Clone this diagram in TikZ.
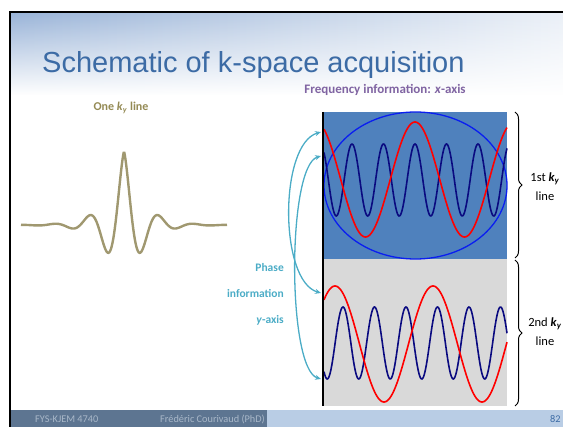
\documentclass[tikz,border=0pt]{standalone}
\usepackage{fontspec}
\setmainfont{Carlito}
\newfontfamily\titlefont{Liberation Sans}
\usetikzlibrary{arrows.meta, positioning, calc, decorations.pathreplacing, fadings}
\definecolor{titleblue}{HTML}{3C6BA5}
\definecolor{freqpurple}{HTML}{8064A2}
\definecolor{olivetext}{HTML}{948A54}
\definecolor{sincolive}{HTML}{A09870}
\definecolor{panelblue}{HTML}{4F81BD}
\definecolor{panelgray}{HTML}{D9D9D9}
\definecolor{wavered}{HTML}{FF0000}
\definecolor{wavenavy}{HTML}{0A0A80}
\definecolor{ellblue}{HTML}{0A1EF0}
\definecolor{phasecyan}{HTML}{4BACC6}
\definecolor{footdark}{HTML}{5D7591}
\definecolor{footlight}{HTML}{B9CDE5}
\definecolor{foottext}{HTML}{A9B8C9}
\definecolor{hdrblue}{HTML}{9AB4D8}
\tikzfading[name=hdrfade, top color=transparent!100, bottom color=transparent!0]

\begin{document}
\begin{tikzpicture}[
    x=1pt, y=-1pt,
    % ── Text styles ──────────────────────────────────────────────────────
    titletext/.style={
        font=\titlefont\fontsize{29}{31}\selectfont,
        text=titleblue, inner sep=0pt
    },
    labeltext/.style={
        font=\fontsize{12}{14}\selectfont\bfseries, inner sep=0pt
    },
    bracetext/.style={
        font=\fontsize{12.5}{19}\selectfont, align=center, inner sep=0pt
    },
    foottxt/.style={
        font=\fontsize{10.3}{11}\selectfont, inner sep=0pt, anchor=base west
    },
    % ── Curve styles ─────────────────────────────────────────────────────
    wave/.style={line width=1.6pt, smooth, samples=240},
    phasearr/.style={
        {Stealth[length=6pt, width=5pt]}-{Stealth[length=6pt, width=5pt]},
        line width=1.3pt, color=phasecyan
    },
    kbrace/.style={
        decorate, decoration={brace, amplitude=7pt}, line width=1pt
    }
]
\useasboundingbox (0,0) rectangle (563,427);

% ═══════════════════════════════════════════════════════════════════════════
% Slide frame, header shading and footer
% ═══════════════════════════════════════════════════════════════════════════
\shade[left color=hdrblue, right color=hdrblue!20] (11,13) rectangle (563,95);
\fill[white, path fading=hdrfade] (11,13) rectangle (563,95);
\fill[footdark] (11,410) rectangle (267,427);
\fill[footlight] (267,410) rectangle (563,427);
\draw[line width=1.5pt] (10,427) -- (10,12) -- (563,12);

\node[foottxt, text=foottext] (course) at (35,423) {FYS-KJEM 4740};
\node[foottxt, text=foottext] (author) at (160,423) {Frédéric Courivaud (PhD)};
\node[foottxt, text=titleblue] (page) at (550,423) {82};

% ═══════════════════════════════════════════════════════════════════════════
% Title and headings
% ═══════════════════════════════════════════════════════════════════════════
\node[titletext, anchor=base west] (title) at (42,73)
    {Schematic of k-space acquisition};

\node[labeltext, text=freqpurple, anchor=base,
      font=\fontsize{13}{15}\selectfont\bfseries] (freq) at (385,94)
    {Frequency information: \textit{x}-axis};

\node[labeltext, text=olivetext, anchor=base] (oneky) at (121,111)
    {One \textit{k}\textsubscript{\textit{y}} line};

% ═══════════════════════════════════════════════════════════════════════════
% One k_y line (signal)
% ═══════════════════════════════════════════════════════════════════════════
\draw[sincolive, line width=2.4pt, smooth, samples=260, domain=-103:103]
    plot ({124+\x}, {225-74*cos(\x/35*360)*exp(-abs(\x)/17)});

% ═══════════════════════════════════════════════════════════════════════════
% k-space panel: 1st and 2nd k_y lines
% ═══════════════════════════════════════════════════════════════════════════
\fill[panelblue] (324,112) rectangle (507,259);
\fill[panelgray] (324,259) rectangle (507,406);

\draw[ellblue, line width=1.3pt] (415.5,185.5) ellipse (91.5 and 73.5);

% 1st line
\draw[wave, wavenavy, domain=324:507]
    plot (\x, {180-36*cos((\x-415)/31.5*360)});
\draw[wave, wavered, domain=324:507]
    plot (\x, {179.5-57.5*cos((\x-415)/99*360)});

% 2nd line
\draw[wave, wavenavy, domain=324:507]
    plot (\x, {343-36*cos((\x-343)/31.5*360)});
\draw[wave, wavered, domain=324:507]
    plot (\x, {344-58*cos((\x-433)/98*360)});

\draw[line width=1.5pt] (323,112) -- (323,406);

% Braces on the right
\draw[kbrace] (515,112) -- (515,258);
\draw[kbrace] (515,260) -- (515,406);
\node[bracetext] (firstky) at (545,187)
    {1st \textbf{\textit{k}\textsubscript{\textit{y}}}\\line};
\node[bracetext] (secondky) at (545,332)
    {2nd \textbf{\textit{k}\textsubscript{\textit{y}}}\\line};

% ═══════════════════════════════════════════════════════════════════════════
% Phase information arrows
% ═══════════════════════════════════════════════════════════════════════════
\coordinate (redtop) at (321,132);
\coordinate (navytop) at (321,156);
\coordinate (redbot) at (321,293);
\coordinate (navybot) at (321,379);

\draw[phasearr] (redtop) .. controls +(-42,12) and +(-42,-12) .. (redbot);
\draw[phasearr] (navytop) .. controls +(-34,10) and +(-34,-10) .. (navybot);

\node[labeltext, text=phasecyan, align=right, anchor=north east,
      font=\fontsize{11.5}{26}\selectfont\bfseries] (phase) at (284,263)
    {Phase\\information\\\textit{y}-axis};

\end{tikzpicture}
\end{document}
